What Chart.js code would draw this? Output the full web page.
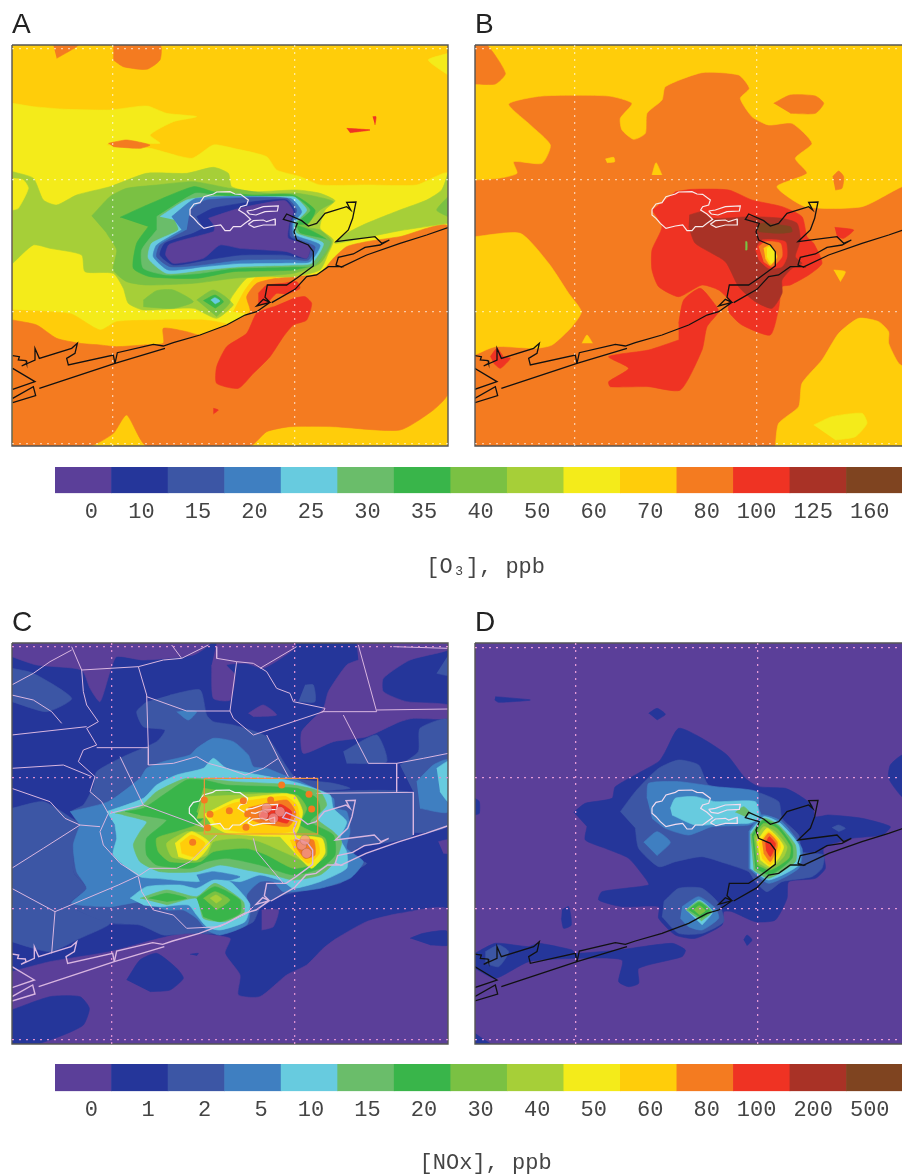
<!DOCTYPE html>
<html>
<head>
<meta charset="utf-8">
<title>Ozone and NOx maps</title>
<script src="https://cdn.jsdelivr.net/npm/chart.js@4/dist/chart.umd.min.js"></script>
<style>
  html, body { margin: 0; padding: 0; background: #fff; overflow: hidden; width: 902px; height: 1176px; }
  canvas { position: absolute; }
  canvas.map { filter: blur(0.5px); }
</style>
</head>
<body>
<canvas id="panelA" class="map" style="left:11px;top:8px" width="438" height="439"></canvas>
<canvas id="panelB" class="map" style="left:474px;top:8px" width="438" height="439"></canvas>
<canvas id="panelC" class="map" style="left:11px;top:606px" width="438" height="439"></canvas>
<canvas id="panelD" class="map" style="left:474px;top:606px" width="438" height="439"></canvas>
<canvas id="barO3" style="left:0;top:464px" width="904" height="116"></canvas>
<canvas id="barNOx" style="left:0;top:1062px" width="904" height="114"></canvas>
<script>
// colour classes, same for both legends
var levelColors = ['#5b3f99', '#25369a', '#3c56a5', '#3f7fc1', '#67cbdf', '#6abd6a', '#39b54a', '#7ac143',
  '#a6cf38', '#f4eb1a', '#ffcd0a', '#f47b20', '#ef3323', '#a93226', '#7f4420'];
var o3Labels = ['0', '10', '15', '20', '25', '30', '35', '40', '50', '60', '70', '80', '100', '125', '160'];
var noxLabels = ['0', '1', '2', '5', '10', '15', '20', '30', '40', '50', '60', '80', '100', '200', '500'];

// all map outlines are in map units, [level, x,y,x,y...]
var areasA = [
  [9, [38,280,100,290,200,298,330,300,440,288,500,310,590,320,520,335,450,375,480,400,340,395,320,405,450,415,575,445,640,405,700,415,800,440,830,480,900,500,960,525,1100,525,1250,525,1344,490,1344,700,1000,800,700,960,300,1010,38,940]],
  [10, [38,900,150,905,215,912,300,960,350,935,490,930,610,930,650,935,700,950,600,990,490,1010,430,1030,240,1010,38,960]],
  [10, [700,905,735,840,770,800,830,795,790,860,760,915]],
  [11, [38,930,110,945,170,985,240,1000,300,1005,350,1010,430,1005,490,1000,490,955,560,965,600,975,680,945,750,905,740,860,770,820,830,805,890,800,960,790,1000,745,1040,710,1100,695,1200,680,1344,650,1344,1150,1300,1200,1200,1260,1000,1250,870,1250,800,1265,750,1308,440,1308,380,1215,340,1270,270,1308,38,1308]],
  [11, [340,105,480,105,480,150,440,178,370,170,340,150]],
  [11, [160,105,235,105,170,145]],
  [9, [1344,130,1285,150,1344,195]],
  [11, [325,400,380,390,450,405,420,415,340,410]],
  [12, [1040,355,1110,360,1050,368]],
  [12, [1118,320,1128,320,1125,345]],
  [12, [880,865,915,860,935,880,920,930,880,945,850,980,810,1040,760,1090,715,1135,650,1120,650,1070,680,1010,740,970,770,910,820,890]],
  [12, [775,850,800,826,850,820,890,815,900,835,860,852,830,850,800,880,775,885]],
  [12, [640,1195,655,1200,640,1212]],
  [8, [38,485,100,505,130,570,170,585,230,555,330,530,440,490,560,490,640,472,685,490,695,530,760,545,890,540,960,550,1005,572,975,600,960,655,1000,690,985,730,960,780,880,800,790,800,740,805,690,870,700,885,650,925,580,895,430,900,385,880,370,835,340,790,255,785,245,735,150,715,100,705,38,760]],
  [8, [1344,490,1325,540,1280,570,1200,600,1100,640,1040,670,1005,700,1100,682,1200,662,1344,640]],
  [9, [38,505,70,510,85,535,55,595,38,600]],
  [7, [1344,560,1310,600,1344,620]],
  [7, [275,618,330,560,380,535,470,525,580,515,690,535,800,550,890,550,950,560,1000,575,960,600,920,650,960,660,995,695,960,760,880,790,700,805,580,820,440,825,380,815,340,780,350,720,320,670]],
  [7, [430,870,470,842,520,840,580,875,520,895,430,890]],
  [7, [590,870,640,840,690,875,650,920]],
  [6, [610,872,645,855,670,875,645,895]],
  [4, [632,870,645,863,660,873,645,882]],
  [6, [360,622,430,590,580,530,640,545,760,555,880,555,945,600,925,640,890,645,930,660,985,695,950,760,880,780,700,785,590,805,450,800,400,775,410,700,445,650]],
  [5, [470,620,585,550,640,555,760,565,880,560,930,600,890,640,900,670,990,695,945,765,880,770,700,775,600,790,500,795,430,775,425,720,470,660]],
  [4, [480,620,560,570,640,560,860,560,885,562,920,600,885,640,890,670,970,700,935,760,880,765,720,770,610,780,500,790,445,745,455,700,535,660,525,630]],
  [3, [515,620,590,565,870,565,905,605,880,640,885,675,960,705,930,755,880,758,720,760,610,770,505,780,460,740,470,705,545,660]],
  [2, [570,600,620,570,860,565,890,600,875,640,880,680,945,710,925,750,870,748,720,750,600,765,510,770,470,740,480,705,560,660]],
  [1, [590,620,640,595,760,575,860,570,885,605,870,640,870,680,930,710,920,745,860,735,720,735,620,750,520,765,480,735,495,700,580,670,610,655]],
  [0, [625,625,700,600,740,590,855,572,880,605,868,640,865,685,930,708,920,745,860,725,720,715,660,705,610,745,520,760,497,735,508,703,640,665,645,650]]
];

var areasB = [
  [10, [38,105,1350,105,1350,530,1320,530,1200,590,1030,590,945,530,1035,490,1000,445,1050,400,990,340,920,345,870,320,835,265,862,235,830,195,720,188,610,230,600,270,555,310,550,370,515,388,480,360,475,325,510,280,440,258,240,258,140,282,205,345,265,405,240,460,155,455,165,490,110,505,38,510]],
  [11, [38,105,75,105,130,190,100,222,38,222]],
  [11, [935,280,985,255,1060,258,1085,280,1060,310,985,310]],
  [11, [1112,500,1130,483,1145,500,1140,535,1120,540]],
  [10, [38,680,175,670,260,760,320,850,358,905,330,950,270,1005,220,1015,100,1010,38,1035]],
  [10, [430,447,455,442,458,455,435,458]],
  [10, [570,495,582,458,600,495]],
  [10, [360,1000,375,975,392,1000]],
  [10, [1115,780,1150,785,1135,815]],
  [10, [940,1308,950,1240,1010,1190,1020,1120,1080,1050,1130,970,1190,925,1250,935,1280,965,1280,1000,1310,1060,1350,1090,1350,1308]],
  [9, [1055,1245,1110,1220,1200,1210,1215,1240,1180,1280,1120,1290]],
  [12, [640,545,690,538,800,540,870,570,960,590,1020,620,1035,680,1055,700,1080,760,1040,795,985,825,960,830,950,895,925,975,840,945,800,905,800,870,770,840,720,825,650,860,590,830,570,780,570,720,600,650,570,600]],
  [12, [650,940,665,870,715,835,760,885,770,905,735,950,720,1020,655,1140,560,1130,445,1130,440,1115,500,1075,440,1040,560,1020,650,990]],
  [12, [1118,652,1175,660,1145,685,1125,680]],
  [12, [85,1040,105,1015,125,1040,145,1045,115,1075,95,1060]],
  [13, [682,615,720,605,750,625,870,620,960,625,1005,640,1015,690,1000,740,1020,760,990,775,960,810,960,850,930,895,880,875,830,830,790,755,700,700,680,650]],
  [14, [885,650,900,640,985,650,990,665,950,670,890,665]],
  [12, [880,720,900,690,970,695,975,740,960,770,920,775,890,750]],
  [11, [890,710,910,695,955,700,960,740,930,770,905,755]],
  [10, [905,715,925,705,945,740,925,765,910,745]],
  [9, [915,715,928,710,942,740,928,760,915,740]],
  [7, [850,695,855,695,855,720,850,720]]
];

var areasC = [
  [0, [35,1100,150,1070,330,1040,480,1000,560,985,690,1000,675,1045,720,1110,715,1170,780,1175,860,1110,920,1080,970,1030,1010,1000,1100,950,1200,925,1345,915,1345,1317,35,1317]],
  [1, [35,1215,150,1175,240,1175,268,1210,250,1260,190,1290,110,1317,35,1317]],
  [1, [380,1125,420,1065,470,1045,530,1090,550,1120,510,1155,450,1160]],
  [1, [1230,1000,1270,985,1340,978,1345,1020,1290,1020]],
  [1, [570,1048,595,1045,590,1052]],
  [0, [785,915,835,915,820,965,785,975]],
  [0, [1315,710,1345,705,1345,745,1330,745]],
  [0, [35,114,630,114,580,150,430,165,350,155,330,200,300,290,270,250,245,195,110,180,35,155]],
  [0, [650,114,885,114,885,130,790,190,740,175,680,180,705,210,690,285,640,280,635,180]],
  [0, [1070,114,1345,114,1345,135,1230,165,1150,220,1150,260,1220,290,1345,300,1345,340,1240,340,1200,350,1100,395,1000,410,910,445,905,380,970,310,985,260,1040,180,1075,165]],
  [0, [745,325,790,300,830,330,760,335]],
  [2, [36,190,100,205,215,280,140,320,36,290]],
  [2, [915,240,940,240,945,290,895,290]],
  [2, [1345,150,1345,210,1310,205]],
  [2, [1030,440,1130,390,1160,470,1040,475]],
  [2, [1200,480,1255,440,1260,370,1345,345,1345,660,1240,680,1240,560]],
  [2, [36,610,130,590,215,640,240,660,225,730,220,800,260,850,210,895,240,920,330,955,240,1000,155,1040,100,1030,36,1010]],
  [2, [440,290,410,320,430,365,495,375,470,410,370,455,290,500,280,545,250,600,215,620,235,660,225,730,220,800,260,850,210,895,240,920,330,955,420,960,490,990,570,985,680,985,760,950,780,910,850,870,1020,835,1060,800,1100,775,1060,760,1070,730,1240,690,1240,565,950,560,1050,550,1000,535,890,520,860,485,800,395,700,360,640,350,620,330,600,255,510,270]],
  [3, [560,315,590,320,565,345,530,320]],
  [3, [1250,530,1300,480,1345,465,1345,620,1260,610]],
  [3, [210,620,325,590,420,520,440,490,490,470,570,450,590,430,640,400,700,410,745,450,760,485,800,490,850,510,880,520,1000,580,1005,610,1040,620,1050,680,1040,730,1090,770,1050,820,960,850,850,860,820,830,780,830,740,870,750,920,740,960,660,990,620,975,590,940,550,915,500,915,430,890,330,905,215,895,260,850,230,800,220,720,240,660]],
  [4, [1310,490,1345,470,1345,590,1320,560]],
  [4, [320,620,430,580,470,540,530,510,610,490,640,460,680,490,880,530,990,570,1000,610,1040,650,1020,700,1040,740,1040,790,960,830,880,850,850,830,780,810,720,830,640,820,590,830,470,820,420,815,340,750,350,700,345,660]],
  [4, [390,880,440,845,540,840,590,850,640,825,690,830,730,870,750,900,735,950,660,975,620,965,590,930,565,900,480,905,430,900]],
  [3, [590,810,640,800,720,815,690,825,640,822,600,830]],
  [5, [345,625,420,605,470,560,560,520,700,530,880,540,960,560,980,600,950,640,1000,680,1025,710,1005,770,960,810,880,825,820,810,740,795,660,780,590,800,480,800,420,770,400,720,420,680,440,650,370,630]],
  [6, [375,620,430,610,490,570,560,525,610,525,680,540,890,550,950,580,960,620,930,650,1000,690,1005,750,960,790,880,810,780,780,680,760,620,770,570,790,470,780,440,750,440,700,480,665,500,645,420,630]],
  [7, [610,550,680,560,890,570,920,610,900,660,975,700,980,750,950,775,880,790,800,750,740,730,640,740,600,770,510,770,475,740,470,700,530,680,590,660,610,640,590,620]],
  [8, [610,575,720,570,860,565,890,590,900,650,890,690,960,700,960,760,930,775,860,745,780,710,720,700,640,710,620,750,570,765,515,755,500,715,560,680,610,680,640,640,590,640]],
  [9, [612,628,700,585,740,578,850,566,885,572,908,620,895,672,880,692,800,694,680,684,636,662]],
  [9, [525,715,575,680,630,715,590,765,535,755]],
  [9, [835,690,965,700,975,745,935,790,890,750]],
  [10, [628,628,700,595,760,585,855,574,890,600,898,640,880,678,780,686,690,676,645,655]],
  [10, [540,715,575,690,615,715,585,755,545,745]],
  [10, [870,705,950,705,958,745,925,775,885,740]],
  [11, [745,608,860,585,888,625,866,664,780,654,745,640]],
  [11, [885,705,940,705,945,750,915,760,890,730]],
  [12, [785,620,840,598,875,620,862,654,820,644,778,636]],
  [5, [420,880,500,855,590,875,645,835,730,890,730,930,670,950,610,940,590,880,500,900]],
  [6, [445,880,500,865,560,880,500,890]],
  [6, [590,880,645,845,720,885,720,925,660,950,610,935]],
  [7, [610,880,645,860,690,885,650,915]],
  [8, [630,880,648,870,665,882,648,895]]
];

var areasD = [
  [1, [335,622,370,595,450,580,460,545,590,470,610,440,650,370,720,400,795,450,850,520,890,545,970,550,1010,570,1050,600,1060,635,1100,630,1200,640,1285,665,1260,690,1170,700,1085,730,1090,790,1060,820,980,830,975,880,940,945,880,950,810,920,785,920,780,960,700,1000,640,990,590,940,590,905,480,905,410,885,420,860,560,840,550,820,500,760,430,730,370,705,375,665]],
  [1, [100,275,205,285,110,292,98,285]],
  [1, [560,325,585,310,610,328,585,345]],
  [1, [39,580,52,590,52,625,39,630]],
  [1, [1350,450,1320,450,1285,480,1280,520,1320,575,1350,580]],
  [1, [300,915,320,905,328,960,305,970,298,940]],
  [1, [845,1005,855,990,870,1005,855,1022]],
  [1, [39,1285,60,1300,85,1317,39,1317]],
  [1, [39,1045,100,1015,200,1025,230,1015,330,1035,340,1045,470,1035,630,1015,670,1035,660,1055,530,1090,530,1135,500,1145,470,1130,480,1065,340,1060,200,1070,100,1120,39,1090]],
  [2, [70,1040,110,1020,140,1040,110,1085,70,1075]],
  [2, [1110,668,1130,660,1150,670,1130,680]],
  [2, [475,620,520,560,590,490,650,465,710,480,740,540,880,560,950,590,960,640,1010,690,1020,740,1085,750,1080,790,1050,815,960,830,915,860,880,830,860,800,790,775,720,755,640,770,590,785,530,730,520,670]],
  [2, [605,890,650,850,720,850,770,895,785,950,720,985,650,985,600,935]],
  [3, [555,580,560,535,650,530,760,545,885,560,890,610,900,640,860,660,750,665,680,690,610,670,570,640]],
  [3, [545,712,585,680,625,712,585,752]],
  [3, [660,905,710,875,760,910,770,940,720,975,680,965,655,940]],
  [3, [860,680,900,630,960,650,1020,730,1010,790,920,835,860,790]],
  [4, [625,610,640,580,700,575,760,590,880,590,890,640,860,655,800,655,700,660,630,630]],
  [4, [865,680,905,635,955,655,1010,720,1010,780,920,825,865,790]],
  [4, [672,915,712,885,752,920,720,960]],
  [5, [820,622,845,605,865,625,850,635]],
  [5, [865,690,905,640,950,660,1000,720,1000,770,920,820,875,795]],
  [5, [672,915,712,888,750,920,718,948]],
  [6, [870,690,905,645,950,665,990,720,990,760,925,810,880,790]],
  [6, [680,915,712,892,745,920,718,940]],
  [7, [875,695,905,655,945,670,985,725,980,760,925,795,885,780]],
  [7, [695,915,712,902,730,917,712,930]],
  [8, [880,700,905,665,940,680,975,725,965,755,925,790,890,775]],
  [9, [885,710,915,670,945,695,965,725,950,760,925,785,895,765]],
  [10, [890,715,920,680,950,705,955,730,925,780,900,760]],
  [11, [900,710,920,685,945,710,945,730,925,770,905,745]],
  [12, [910,715,922,695,940,715,938,730,925,755,912,735]]
];

var coastLines = [
  [38,1037,58,1040,55,1050,78,1052,80,1060,65,1068,105,1050,105,1015,118,1045,215,1015,232,1000,225,1030,200,1045,205,1065,340,1035,345,1060],
  [38,1075,105,1115,38,1138],
  [38,1165,100,1130,107,1157,38,1178],
  [118,1135,345,1060,495,1015],
  [345,1060,352,1028,460,1003,490,1008,520,998,600,975,680,945,735,915,770,905,810,877,790,868,770,888,810,877,795,862,802,825,860,825,890,805,940,768,940,725,925,705,890,690,882,665,892,640,850,628,860,612,905,632,925,648,950,640,975,610,1040,590,1052,600,1040,577,1068,576,1058,625,1045,660,1008,695,1125,680,1145,700,1168,690,1140,705,1095,712,1060,732,1015,742,1008,765,1022,770,985,770,950,795,920,800,885,838,815,878],
  [1022,772,1100,735,1200,700,1280,675,1344,653]
];
var urbanLines = [
  [570,598,582,582,600,578,612,560,640,552,650,546,690,545,705,552,722,553,745,570,740,585,722,590,716,600,735,612,752,628,735,640,722,650,700,650,690,662,675,662,662,645,640,648,612,655,595,640,582,625,570,615,570,598],
  [740,603,760,600,790,590,835,588,832,603,795,605,768,615,748,612,740,603],
  [745,643,760,632,790,630,800,635,825,627,826,645,790,645,762,652,745,643]
];
var countyLines = [
  [215,125,245,195,250,260,260,300,295,350,260,370,290,420,250,435,235,470,285,515,270,560,305,590,325,625,300,680,310,720,360,775,415,810],
  [35,240,100,205,150,170,215,135],
  [245,195,415,185,490,165,545,160,625,120],
  [515,120,545,160],
  [415,185,440,270,445,430,445,480],
  [440,275,560,318,690,318,700,340,760,390,970,320,975,310,880,290,870,265,830,250,800,200,760,175,710,170,690,318],
  [290,428,445,428],
  [650,125,650,160,710,170],
  [780,190,890,125],
  [800,390,835,460,865,515],
  [965,320,1130,320,1075,120],
  [1130,315,1345,312],
  [1030,330,1105,475,1190,475,1270,460,1345,445],
  [1190,475,1190,560],
  [950,565,1240,562,1240,690],
  [35,550,150,590,195,640,240,660,300,665],
  [240,660,130,730,35,790],
  [35,850,165,920,355,840,420,810,450,790,530,790,570,770,640,700,650,690],
  [165,920,155,1045],
  [360,455,430,600,620,670],
  [430,600,330,625],
  [760,700,770,740,850,835],
  [35,270,100,285,155,320,185,355],
  [35,390,260,365],
  [35,490,190,480,275,515],
  [415,815,425,860,460,915,520,930,560,970,660,965,740,925,760,905],
  [445,480,520,475,590,455,625,475,680,490,735,510,790,490,835,460],
  [1180,125,1345,130]
];
var controlBox = [613,520,953,520,953,687,613,687,613,520];
var sitesX = [613, 630, 623, 688, 730, 743, 738, 812, 845, 927, 935, 578];
var sitesY = [585, 628, 668, 617, 587, 627, 667, 585, 540, 568, 612, 712];

// x and y of the dotted graticule, per panel
var gridA = { x: [338, 885], y: [115, 510, 905, 1300] };
var gridC = { x: [335, 885], y: [125, 518, 910, 1305] };
var gridD = { x: [340, 888], y: [127, 518, 910, 1303] };

function toPoints(flat, dx, dy) {
  var out = [];
  for (var i = 0; i < flat.length; i += 2) {
    out.push({ x: flat[i] + (dx || 0), y: flat[i + 1] + (dy || 0) });
  }
  return out;
}

function areaSet(level, flat) {
  return { data: toPoints(flat), showLine: true, fill: 'shape', backgroundColor: levelColors[level],
    borderColor: levelColors[level], borderWidth: 0.6, pointRadius: 0, tension: 0.2 };
}

function lineSet(flat, color, width, dx, dy) {
  return { data: toPoints(flat, dx, dy), showLine: true, fill: false, borderColor: color,
    borderWidth: width, pointRadius: 0 };
}

function drawPanel(id, letter, o) {
  var xMin = o.x[0], xMax = o.x[1], yMin = o.y[0], yMax = o.y[1];
  var base = areaSet(o.base, [xMin, yMin, xMax, yMin, xMax, yMax, xMin, yMax]);
  base.tension = 0;
  var sets = [base];
  o.areas.forEach(function (a) { sets.push(areaSet(a[0], a[1])); });
  coastLines.forEach(function (c) { sets.push(lineSet(c, o.coast, o.coastWidth, o.dx, o.dy)); });
  urbanLines.forEach(function (c) { sets.push(lineSet(c, o.urban, 1.2, o.dx, o.dy)); });
  (o.top || []).forEach(function (s) { sets.push(s); });
  var frame = lineSet([xMin, yMin, xMax, yMin, xMax, yMax, xMin, yMax, xMin, yMin], '#555', 1.4);
  frame.clip = false;
  sets.push(frame);

  new Chart(document.getElementById(id), {
    type: 'scatter',
    data: { datasets: sets.reverse() }, // first dataset is painted last
    options: {
      responsive: false,
      animation: false,
      events: [],
      layout: { autoPadding: false, padding: { left: 1, right: 1, bottom: 1 } },
      plugins: {
        legend: { display: false },
        tooltip: { enabled: false },
        title: { display: true, text: letter, align: 'start', color: '#222', padding: { top: 0, bottom: 3 },
          font: { family: 'Liberation Sans', size: 28, weight: 'normal', lineHeight: '34px' } }
      },
      scales: {
        x: axisFor(xMin, xMax, o.grid.x, o.gridColor, false),
        y: axisFor(yMin, yMax, o.grid.y, o.gridColor, true)
      }
    }
  });
}

function axisFor(min, max, values, color, rev) {
  return {
    type: 'linear', min: min, max: max, reverse: rev,
    afterBuildTicks: function (axis) { axis.ticks = values.map(function (v) { return { value: v }; }); },
    ticks: { display: false },
    border: { display: false, dash: [2, 5] },
    grid: { color: color, drawTicks: false, z: 1, lineWidth: 1.3 }
  };
}

function drawLegend(id, labels, title, topPad, titlePad) {
  new Chart(document.getElementById(id), {
    type: 'bar',
    data: { labels: labels, datasets: [{ data: labels.map(function () { return 1; }), backgroundColor: levelColors,
      barPercentage: 1, categoryPercentage: 1 }] },
    options: {
      responsive: false,
      animation: false,
      events: [],
      layout: { padding: { left: 55, right: 1, top: topPad } },
      plugins: {
        legend: { display: false },
        tooltip: { enabled: false },
        // axis titles get squeezed on a short canvas, the chart title does not
        title: { display: true, position: 'bottom', text: title, color: '#444', padding: { top: titlePad, bottom: 0 },
          font: { family: 'Liberation Mono', size: 22, weight: 'normal' } }
      },
      scales: {
        y: { display: false, min: 0, max: 1 },
        x: {
          grid: { display: false, drawTicks: false },
          border: { display: false },
          ticks: {
            autoSkip: false, maxRotation: 0, labelOffset: -5, padding: 6, color: '#444',
            font: { family: 'Liberation Mono', size: 22 },
            callback: function (v, i) { return labels[i].padStart(3, '\u00a0'); }
          }
        }
      }
    }
  });
}

var blobs = { data: toPoints([800,610,840,620,820,640,790,630,905,720,920,745,915,705]), backgroundColor: 'rgba(240,150,150,0.7)', pointRadius: 5, showLine: false };
var pink = '#d9b6e0';
var sites = { data: sitesX.map(function (x, i) { return { x: x, y: sitesY[i] }; }), backgroundColor: '#f47b20', pointRadius: 3.5, showLine: false, borderWidth: 0 };

drawPanel('panelA', 'A', { x: [36, 1344], y: [105, 1308], base: 10, areas: areasA, grid: gridA, gridColor: 'rgba(255,255,255,0.6)',
  coast: '#111', coastWidth: 1.3, urban: '#f3e3f3', dx: 0, dy: 0 });
drawPanel('panelB', 'B', { x: [39, 1347], y: [105, 1308], base: 11, areas: areasB, grid: gridA, gridColor: 'rgba(255,255,255,0.6)',
  coast: '#111', coastWidth: 1.3, urban: '#f8ecec', dx: 0, dy: 0 });
drawPanel('panelC', 'C', { x: [36, 1344], y: [114, 1317], base: 1, areas: areasC, grid: gridC, gridColor: '#d98fd0',
  coast: pink, coastWidth: 1.4, urban: '#f5f0f5', dx: -2, dy: 10,
  top: countyLines.map(function (c) { return lineSet(c, pink, 1); }).concat([blobs, lineSet(controlBox, '#f0923a', 1.2), sites]) });
drawPanel('panelD', 'D', { x: [39, 1347], y: [114, 1317], base: 0, areas: areasD, grid: gridD, gridColor: '#e59ad8',
  coast: '#111', coastWidth: 1.3, urban: '#f3dcf0', dx: 0, dy: 10 });

drawLegend('barO3', o3Labels, '\u00a0[O\u2083], ppb', 3, 22);
drawLegend('barNOx', noxLabels, '\u00a0[NOx], ppb', 2, 20);
</script>
</body>
</html>
